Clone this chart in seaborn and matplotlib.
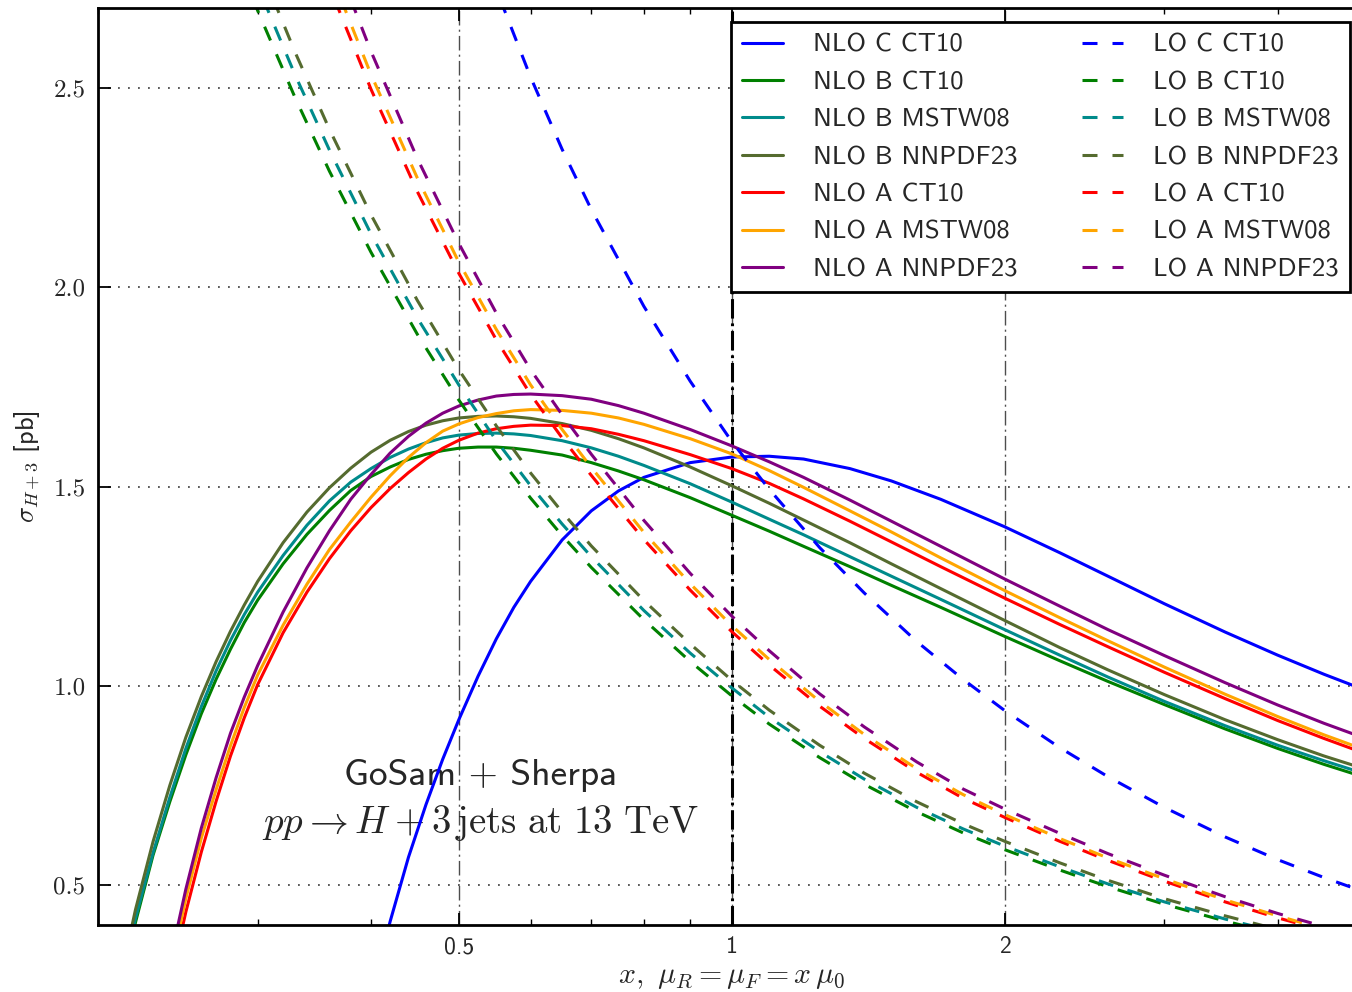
import numpy as np
import pandas as pd
import matplotlib
matplotlib.use("Agg")
import matplotlib.pyplot as plt
import seaborn as sns
from matplotlib.ticker import FixedLocator, FixedFormatter, LogLocator, NullFormatter

nan = np.nan

# scale factor x = mu / mu0 (NLO curves)
X_NLO = [0.21, 0.22, 0.23, 0.24, 0.25, 0.26, 0.27, 0.28, 0.29, 0.30, 0.32, 0.34, 0.36, 0.38,
         0.40, 0.42, 0.44, 0.46, 0.48, 0.50, 0.525, 0.55, 0.575, 0.60, 0.65, 0.70, 0.75, 0.80,
         0.90, 1.00, 1.10, 1.20, 1.35, 1.50, 1.70, 2.00, 2.30, 2.60, 3.00, 3.50, 4.00, 4.50, 5.00]

# NLO cross sections [pb]
NLO_C_CT10 = [nan, nan, nan, nan, nan, nan, nan, nan, nan, nan, nan, nan, nan, nan,
              0.216, 0.409, 0.570, 0.702, 0.816, 0.915, 1.024, 1.118, 1.197, 1.262, 1.366, 1.439, 1.489, 1.523,
              1.560, 1.574, 1.576, 1.569, 1.545, 1.514, 1.468, 1.399, 1.334, 1.275, 1.206, 1.135, 1.077, 1.029, 0.989]
NLO_B_CT10 = [0.209, 0.407, 0.575, 0.709, 0.827, 0.930, 1.017, 1.092, 1.159, 1.215, 1.306, 1.380, 1.440, 1.490,
              1.525, 1.549, 1.568, 1.581, 1.590, 1.596, 1.599, 1.599, 1.596, 1.591, 1.579, 1.560, 1.539, 1.517,
              1.472, 1.428, 1.388, 1.350, 1.299, 1.252, 1.197, 1.124, 1.063, 1.011, 0.953, 0.892, 0.843, 0.803, 0.770]
NLO_B_MSTW08 = [0.220, 0.417, 0.581, 0.720, 0.843, 0.948, 1.038, 1.114, 1.179, 1.235, 1.327, 1.403, 1.464, 1.511,
                1.545, 1.573, 1.594, 1.610, 1.622, 1.629, 1.633, 1.634, 1.632, 1.628, 1.615, 1.597, 1.576, 1.553,
                1.507, 1.461, 1.418, 1.379, 1.324, 1.275, 1.217, 1.141, 1.077, 1.022, 0.961, 0.900, 0.851, 0.812, 0.779]
NLO_B_NNPDF23 = [0.228, 0.439, 0.609, 0.750, 0.871, 0.973, 1.061, 1.137, 1.203, 1.262, 1.359, 1.436, 1.497, 1.546,
                 1.586, 1.616, 1.638, 1.654, 1.665, 1.672, 1.676, 1.677, 1.675, 1.671, 1.658, 1.641, 1.620, 1.597,
                 1.549, 1.502, 1.458, 1.416, 1.359, 1.306, 1.244, 1.164, 1.096, 1.040, 0.978, 0.915, 0.865, 0.824, 0.791]
NLO_A_CT10 = [nan, nan, 0.011, 0.253, 0.433, 0.583, 0.711, 0.824, 0.920, 1.003, 1.133, 1.235, 1.319, 1.389,
              1.447, 1.495, 1.535, 1.569, 1.596, 1.616, 1.634, 1.645, 1.651, 1.654, 1.653, 1.645, 1.631, 1.615,
              1.580, 1.545, 1.508, 1.469, 1.413, 1.361, 1.299, 1.220, 1.154, 1.098, 1.034, 0.968, 0.913, 0.868, 0.830]
NLO_A_MSTW08 = [nan, nan, 0.030, 0.282, 0.467, 0.618, 0.740, 0.850, 0.946, 1.027, 1.152, 1.255, 1.342, 1.411,
                1.473, 1.527, 1.573, 1.610, 1.639, 1.657, 1.673, 1.683, 1.690, 1.693, 1.691, 1.684, 1.672, 1.656,
                1.620, 1.582, 1.540, 1.498, 1.439, 1.386, 1.321, 1.239, 1.171, 1.113, 1.047, 0.979, 0.923, 0.877, 0.839]
NLO_A_NNPDF23 = [nan, nan, 0.074, 0.307, 0.490, 0.643, 0.770, 0.881, 0.972, 1.051, 1.185, 1.296, 1.389, 1.468,
                 1.530, 1.584, 1.626, 1.659, 1.684, 1.702, 1.717, 1.727, 1.731, 1.732, 1.728, 1.719, 1.703, 1.684,
                 1.643, 1.602, 1.562, 1.523, 1.466, 1.413, 1.350, 1.268, 1.200, 1.141, 1.076, 1.008, 0.952, 0.906, 0.868]

# scale factor x (LO curves)
X_LO = [0.26, 0.28, 0.30, 0.33, 0.36, 0.40, 0.45, 0.50, 0.55, 0.60, 0.65, 0.70, 0.80, 0.90,
        1.00, 1.10, 1.25, 1.40, 1.60, 1.80, 2.00, 2.30, 2.60, 3.00, 3.50, 4.00, 4.50, 5.00]

# LO cross sections [pb]
LO_C_CT10 = [nan, nan, nan, nan, nan, nan, nan, 3.022, 2.747, 2.527, 2.346, 2.195, 1.952, 1.764,
             1.613, 1.493, 1.347, 1.233, 1.111, 1.016, 0.938, 0.845, 0.772, 0.695, 0.621, 0.564, 0.519, 0.482]
LO_B_CT10 = [3.065, 2.867, 2.694, 2.475, 2.291, 2.088, 1.882, 1.717, 1.582, 1.471, 1.377, 1.297, 1.166, 1.061,
             0.975, 0.904, 0.820, 0.753, 0.684, 0.631, 0.589, 0.538, 0.496, 0.452, 0.410, 0.377, 0.350, 0.328]
LO_B_MSTW08 = [3.135, 2.933, 2.756, 2.532, 2.344, 2.134, 1.923, 1.755, 1.615, 1.502, 1.406, 1.324, 1.189, 1.082,
               0.995, 0.921, 0.835, 0.766, 0.695, 0.641, 0.598, 0.546, 0.503, 0.458, 0.415, 0.382, 0.354, 0.332]
LO_B_NNPDF23 = [3.206, 2.999, 2.818, 2.589, 2.396, 2.182, 1.967, 1.793, 1.652, 1.534, 1.436, 1.351, 1.214, 1.105,
                1.014, 0.939, 0.851, 0.781, 0.709, 0.654, 0.610, 0.556, 0.512, 0.466, 0.423, 0.389, 0.361, 0.338]
LO_A_CT10 = [nan, nan, nan, 2.989, 2.754, 2.497, 2.240, 2.035, 1.868, 1.731, 1.622, 1.528, 1.367, 1.240,
             1.136, 1.052, 0.949, 0.868, 0.783, 0.718, 0.670, 0.610, 0.562, 0.510, 0.458, 0.418, 0.386, 0.359]
LO_A_MSTW08 = [nan, nan, nan, 3.034, 2.795, 2.534, 2.274, 2.063, 1.894, 1.755, 1.643, 1.548, 1.385, 1.256,
               1.151, 1.066, 0.961, 0.878, 0.792, 0.727, 0.677, 0.617, 0.568, 0.516, 0.463, 0.423, 0.390, 0.363]
LO_A_NNPDF23 = [nan, nan, nan, 3.103, 2.859, 2.592, 2.323, 2.110, 1.935, 1.793, 1.680, 1.581, 1.415, 1.282,
                1.175, 1.088, 0.980, 0.897, 0.809, 0.741, 0.691, 0.630, 0.579, 0.525, 0.471, 0.429, 0.396, 0.368]

SERIES = [
    ("NLO C CT10", X_NLO, NLO_C_CT10, "#0000ff", "NLO"),
    ("NLO B CT10", X_NLO, NLO_B_CT10, "#008000", "NLO"),
    ("NLO B MSTW08", X_NLO, NLO_B_MSTW08, "#008b8b", "NLO"),
    ("NLO B NNPDF23", X_NLO, NLO_B_NNPDF23, "#556b2f", "NLO"),
    ("NLO A CT10", X_NLO, NLO_A_CT10, "#ff0000", "NLO"),
    ("NLO A MSTW08", X_NLO, NLO_A_MSTW08, "#ffa500", "NLO"),
    ("NLO A NNPDF23", X_NLO, NLO_A_NNPDF23, "#800080", "NLO"),
    ("LO C CT10", X_LO, LO_C_CT10, "#0000ff", "LO"),
    ("LO B CT10", X_LO, LO_B_CT10, "#008000", "LO"),
    ("LO B MSTW08", X_LO, LO_B_MSTW08, "#008b8b", "LO"),
    ("LO B NNPDF23", X_LO, LO_B_NNPDF23, "#556b2f", "LO"),
    ("LO A CT10", X_LO, LO_A_CT10, "#ff0000", "LO"),
    ("LO A MSTW08", X_LO, LO_A_MSTW08, "#ffa500", "LO"),
    ("LO A NNPDF23", X_LO, LO_A_NNPDF23, "#800080", "LO"),
]

sns.set_theme(style="ticks")
plt.rcParams["font.family"] = ["DejaVu Sans"]
plt.rcParams["mathtext.fontset"] = "cm"
plt.rcParams["lines.scale_dashes"] = False
plt.rcParams["axes.unicode_minus"] = False
plt.rcParams["axes.linewidth"] = 2.0
plt.rcParams["axes.edgecolor"] = "black"

W, H = 1352, 992
fig = plt.figure(figsize=(W / 100, H / 100), dpi=100)
ax = fig.add_axes([98 / W, 67 / H, 1267.5 / W, 916.8 / H])
ax.set_xscale("log")

for label, xs, vals, color, kind in SERIES:
    df = pd.DataFrame({"x": xs, "y": vals}).dropna()
    sns.lineplot(data=df, x="x", y="y", ax=ax, color=color, linewidth=2.2,
                 label=label, legend=False, sort=False, estimator=None, zorder=2)
    line = ax.get_lines()[-1]
    line.set_solid_joinstyle("round")
    if kind == "LO":
        line.set_linestyle((0, (10.8, 10.8)))

ax.set_xlim(0.2, 5.0)
ax.set_ylim(0.4, 2.7)

# grid
ax.set_axisbelow(True)
ax.grid(axis="y", which="major", color="0.3", linestyle=(0, (1.3, 5.9)), linewidth=1.3)
ax.grid(axis="x", which="major", color="0.3", linestyle=(0, (10.5, 3.0, 1.5, 3.0)), linewidth=1.0)
ax.axvline(1.0, color="black", linestyle=(0, (14, 3.5, 2.0, 3.5)), linewidth=2.2, zorder=1.8)

# ticks
ax.xaxis.set_major_locator(FixedLocator([0.5, 1.0, 2.0]))
ax.xaxis.set_major_formatter(FixedFormatter(["0.5", "1", "2"]))
ax.xaxis.set_minor_locator(LogLocator(base=10, subs=np.arange(2, 10) * 1.0, numticks=20))
ax.xaxis.set_minor_formatter(NullFormatter())
ax.set_yticks([0.5, 1.0, 1.5, 2.0, 2.5])
ax.set_yticklabels(["0.5", "1.0", "1.5", "2.0", "2.5"])
for t in ax.get_yticklabels():
    t.set_fontfamily("cmr10")
    t.set_fontsize(18)
for t in ax.get_xticklabels():
    t.set_fontfamily("cmss10")
    t.set_fontsize(17)
ax.tick_params(which="both", direction="in", top=True, right=True, color="black")
ax.tick_params(which="major", length=9, width=1.3)
ax.tick_params(which="minor", length=4, width=1.0)
ax.tick_params(axis="y", pad=9)
ax.tick_params(axis="x", pad=8)
for s in ax.spines.values():
    s.set_linewidth(2.0)
    s.set_color("black")

ax.set_xlabel(r"$x,\ \mu_R = \mu_F = x\,\mu_0$", fontsize=21.5, labelpad=3)
ax.set_ylabel(r"$\sigma_{H+3}$ [pb]", fontsize=19, fontfamily="cmss10", labelpad=8)

ax.text(0.3021, 0.1527, "GoSam + Sherpa", transform=ax.transAxes, ha="center",
        va="baseline", fontsize=27, fontfamily="cmss10", zorder=1)
ax.text(0.302, 0.1003, r"$pp \to H + 3\,\mathrm{jets\ at\ 13\ TeV}$", transform=ax.transAxes,
        ha="center", va="baseline", fontsize=28, zorder=1)

handles, labels = ax.get_legend_handles_labels()
leg = ax.legend(handles, labels, ncol=2, loc="upper right",
                bbox_to_anchor=(1350 / W, 1 - 22 / H), bbox_transform=fig.transFigure,
                prop={"family": "cmss10", "size": 19.2}, frameon=True, fancybox=False,
                framealpha=1, edgecolor="black", handlelength=1.55, handletextpad=1.13,
                columnspacing=2.4, labelspacing=0.515, borderpad=0.42, borderaxespad=0)
leg.get_frame().set_linewidth(2.0)

fig.savefig("out.png", dpi=100)
